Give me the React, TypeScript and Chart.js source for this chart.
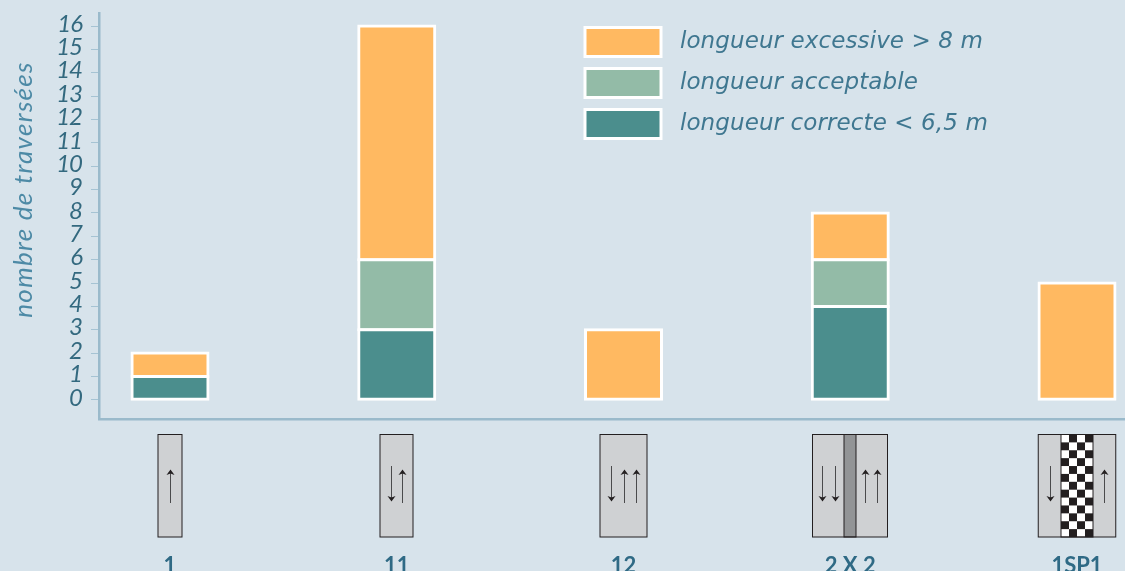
import React, { useEffect, useRef } from "react";
import { Chart, registerables } from "chart.js";

Chart.register(...registerables);

const categories = ["1", "11", "12", "2 X 2", "1SP1"];
const correcte = [1, 3, 0, 4, 0];
const acceptable = [0, 3, 0, 2, 0];
const excessive = [1, 10, 3, 2, 5];
const yTicks = [0, 1, 2, 3, 4, 5, 6, 7, 8, 9, 10, 11, 12, 13, 14, 15, 16];
const seriesNames = [" longueur correcte < 6,5 m", " longueur acceptable", " longueur excessive > 8 m"];

const BG = "#d7e3eb";
const AXIS = "#9abacb";
const TICK_TXT = "#33697f";
const LEGEND_TXT = "#3f7790";
const TITLE_TXT = "#4d8aa6";

// Road pictograms: width, arrows as [offset, direction], optional median.
const roads = [
  { w: 24, arrows: [[0.3, 1]] },
  { w: 33, arrows: [[-5.8, -1], [5.5, 1]] },
  { w: 47, arrows: [[-13, -1], [0, 1], [12.7, 1]] },
  { w: 75, arrows: [[-27.7, -1], [-14.7, -1], [15, 1], [26.7, 1]], median: 12 },
  { w: 77.5, arrows: [[-27, -1], [27, 1]], checker: 32 },
];

const toBars = (values: number[]) => values.map((v, i) => ({ x: i, y: v === 0 ? null : v }));

const withSpacing = (ctx: any, obj: any, method: string, spacing: string) => {
  if (obj["__p_" + method]) return;
  obj["__p_" + method] = true;
  const orig = obj[method];
  obj[method] = function (...args: any[]) {
    ctx.letterSpacing = spacing;
    orig.apply(obj, args);
    ctx.letterSpacing = "0px";
  };
};

const chrome = {
  id: "chrome",
  beforeDraw(chart: any) {
    const { ctx, width, height } = chart;
    ctx.save();
    ctx.fillStyle = BG;
    ctx.fillRect(0, 0, width, height);
    ctx.restore();
    const lg = chart.legend;
    lg.left = 573;
    lg.top = 15.5;
    const t = chart.titleBlock;
    t.left = 8.5;
    t.top = 0;
    t.bottom = 379;
    withSpacing(ctx, t, "draw", "1.3px");
    withSpacing(ctx, lg, "draw", "0.1px");
    withSpacing(ctx, chart.scales.y, "drawLabels", "-1px");
  },
  afterDraw(chart: any) {
    const { ctx } = chart;
    const xs = chart.scales.x;
    const top = 434.5;
    const h = 102.5;
    roads.forEach((r: any, i) => {
      const cx = Math.round(xs.getPixelForValue(i) * 2) / 2;
      const left = cx - r.w / 2;
      ctx.save();
      ctx.fillStyle = "#cfd1d3";
      ctx.fillRect(left, top, r.w, h);
      if (r.median) {
        ctx.fillStyle = "#929496";
        ctx.fillRect(cx - r.median / 2, top, r.median, h);
        ctx.strokeStyle = "#231f20";
        ctx.lineWidth = 1;
        ctx.strokeRect(cx - r.median / 2, top, r.median, h);
      }
      if (r.checker) {
        const cw = r.checker / 4;
        const ch = h / 13;
        const cl = cx - r.checker / 2;
        ctx.fillStyle = "#ffffff";
        ctx.fillRect(cl, top, r.checker, h);
        ctx.fillStyle = "#231f20";
        for (let row = 0; row < 13; row++) {
          for (let col = 0; col < 4; col++) {
            if ((row + col) % 2 === 1) ctx.fillRect(cl + col * cw, top + row * ch, cw, ch);
          }
        }
        ctx.strokeStyle = "#231f20";
        ctx.lineWidth = 1;
        ctx.strokeRect(cl, top, r.checker, h);
      }
      ctx.strokeStyle = "#231f20";
      ctx.lineWidth = 1;
      ctx.strokeRect(left, top, r.w, h);
      r.arrows.forEach(([off, dir]: number[]) => {
        const ax = Math.round(cx + off) + 0.5;
        const tip = dir > 0 ? 470 : 501;
        const tail = dir > 0 ? 503 : 466;
        ctx.strokeStyle = "#4a4a4c";
        ctx.lineWidth = 1;
        ctx.beginPath();
        ctx.moveTo(ax, tail);
        ctx.lineTo(ax, tip);
        ctx.stroke();
        ctx.fillStyle = "#231f20";
        ctx.beginPath();
        ctx.moveTo(ax, tip - dir * 0.5);
        ctx.lineTo(ax + 4, tip + dir * 5);
        ctx.lineTo(ax, tip + dir * 3.5);
        ctx.lineTo(ax - 4, tip + dir * 5);
        ctx.closePath();
        ctx.fill();
      });
      ctx.restore();
    });
  },
};

export default function App() {
  const ref = useRef<HTMLCanvasElement>(null);
  useEffect(() => {
    const barOpts = {
      borderColor: "#ffffff",
      borderWidth: 3,
      borderSkipped: false,
      inflateAmount: 1.5,
      barThickness: 76,
    };
    const chart = new Chart(ref.current!, {
      type: "bar",
      data: {
        datasets: [
          { label: seriesNames[0], data: toBars(correcte) as any, backgroundColor: "#4b8e8d", ...barOpts },
          { label: seriesNames[1], data: toBars(acceptable) as any, backgroundColor: "#93bba7", ...barOpts },
          { label: seriesNames[2], data: toBars(excessive) as any, backgroundColor: "#ffb961", ...barOpts },
        ],
      },
      plugins: [chrome],
      options: {
        animation: false,
        responsive: false,
        devicePixelRatio: 1,
        layout: { padding: { left: 0, right: 0, top: 13, bottom: 0 } },
        plugins: {
          tooltip: { enabled: false },
          title: {
            display: true,
            text: "nombre de traversées",
            position: "left",
            padding: 0,
            color: TITLE_TXT,
            font: { family: "Lato", size: 26, style: "italic", weight: "normal" },
          },
          legend: {
            display: true,
            position: "chartArea",
            align: "start",
            reverse: true,
            labels: {
              boxWidth: 76,
              boxHeight: 29,
              padding: 12,
              color: LEGEND_TXT,
              font: { family: "DejaVu Sans", size: 23, style: "italic" },
              generateLabels(c: any) {
                return c.data.datasets.map((d: any, i: number) => ({
                  text: d.label,
                  fillStyle: d.backgroundColor,
                  strokeStyle: "#ffffff",
                  lineWidth: 3,
                  fontColor: LEGEND_TXT,
                  datasetIndex: i,
                }));
              },
            },
          },
        },
        scales: {
          x: {
            type: "linear",
            offset: false,
            stacked: true,
            min: -0.3131,
            max: 4.2117,
            grid: { display: false },
            border: { display: true, color: AXIS, width: 2.5 },
            afterBuildTicks(s: any) {
              s.ticks = categories.map((_, i) => ({ value: i }));
            },
            afterFit(s: any) {
              s.height = 152;
              s.paddingLeft = 0;
              s.paddingRight = 0;
            },
            ticks: {
              autoSkip: false,
              maxRotation: 0,
              padding: 126,
              color: "#2f6a85",
              font: { family: "Lato", size: 22, weight: "bold" },
              callback: (v: any) => categories[v],
            },
          },
          y: {
            stacked: true,
            min: -0.82,
            max: 16.557,
            grid: { display: true, drawOnChartArea: false, drawTicks: true, tickLength: 8, tickColor: "#a5c3d3", tickWidth: 1 },
            border: { display: true, color: AXIS, width: 2.5 },
            afterBuildTicks(s: any) {
              s.ticks = yTicks.map((value) => ({ value }));
            },
            afterFit(s: any) {
              s.width = 99 - 31.2;
              s.paddingTop = 0;
              s.paddingBottom = 0;
            },
            ticks: {
              autoSkip: false,
              padding: 9,
              labelOffset: -2,
              color: TICK_TXT,
              font: { family: "Lato", size: 24, style: "italic" },
              callback: (v: any) => String(v),
            },
          },
        },
      } as any,
    });
    return () => chart.destroy();
  }, []);
  return (
    <div style={{ position: "absolute", left: 0, top: 0, width: 1125, height: 571, background: BG }}>
      <canvas ref={ref} width={1125} height={571} style={{ display: "block" }} />
    </div>
  );
}
